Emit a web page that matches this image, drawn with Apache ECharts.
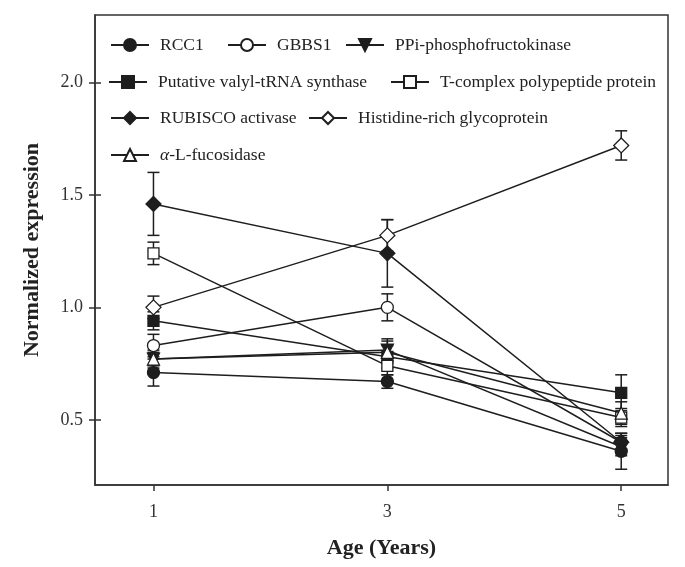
<!DOCTYPE html>
<html>
<head>
<meta charset="utf-8">
<script src="https://cdn.jsdelivr.net/npm/echarts@6/dist/echarts.min.js"></script>
<style>
  html, body { margin: 0; padding: 0; background: #fff; }
  #chart { width: 685px; height: 567px; }
</style>
</head>
<body>
<div id="chart"></div>
<script>
// ages on the x axis
const years = [1, 3, 5]
const xTicks = [1, 3, 5]
const yTicks = [0.5, 1.0, 1.5, 2.0]

// gene names (legend order)
const names = [
  'RCC1', 'GBBS1', 'PPi-phosphofructokinase',
  'Putative valyl-tRNA synthase', 'T-complex polypeptide protein',
  'RUBISCO activase', 'Histidine-rich glycoprotein',
  'α-L-fucosidase'
]

// mean normalized expression at 1, 3, 5 years
const rcc1 = [0.71, 0.67, 0.36]
const gbbs1 = [0.83, 1.0, 0.40]
const ppi = [0.77, 0.81, 0.38]
const valyl = [0.94, 0.78, 0.62]
const tcomplex = [1.24, 0.74, 0.51]
const rubisco = [1.46, 1.24, 0.40]
const histidine = [1.0, 1.32, 1.72]
const fucosidase = [0.77, 0.80, 0.53]

// error bar half-lengths
const rcc1Err = [0.06, 0.03, 0.08]
const gbbs1Err = [0.05, 0.06, 0.04]
const ppiErr = [0.04, 0.05, 0.04]
const valylErr = [0.04, 0.05, 0.08]
const tcomplexErr = [0.05, 0.04, 0.04]
const rubiscoErr = [0.14, 0.15, 0.03]
const histidineErr = [0.05, 0.07, 0.065]
const fucosidaseErr = [0.03, 0.05, 0.05]

const means = [rcc1, gbbs1, ppi, valyl, tcomplex, rubisco, histidine, fucosidase]
const errs = [rcc1Err, gbbs1Err, ppiErr, valylErr, tcomplexErr, rubiscoErr, histidineErr, fucosidaseErr]

// legend slot (left, top) for each gene
const legendLeft = [110, 227, 345, 108, 390, 110, 308, 110]
const legendTop = [36, 36, 36, 73, 73, 109, 109, 146]

// marker look per gene
const markers = [
  { symbol: 'circle', filled: true, size: 12, rotate: 0 },
  { symbol: 'circle', filled: false, size: 12, rotate: 0 },
  { symbol: 'triangle', filled: true, size: 12, rotate: 180 },
  { symbol: 'rect', filled: true, size: 11, rotate: 0 },
  { symbol: 'rect', filled: false, size: 11, rotate: 0 },
  { symbol: 'diamond', filled: true, size: 15, rotate: 0 },
  { symbol: 'diamond', filled: false, size: 15, rotate: 0 },
  { symbol: 'triangle', filled: false, size: 12, rotate: 0 }
]

const INK = '#1e1e1e'
const SERIF = '"Liberation Serif", "DejaVu Serif", serif'

const chart = echarts.init(document.getElementById('chart'))

const errData = []
means.forEach((m, i) => {
  m.forEach((v, j) => {
    errData.push([years[j], v - errs[i][j], v + errs[i][j]])
  })
})

const lineSeries = names.map((name, i) => ({
  name,
  type: 'line',
  data: years.map((x, j) => [x, means[i][j]]),
  symbol: markers[i].symbol,
  symbolSize: markers[i].size,
  symbolRotate: markers[i].rotate,
  showAllSymbol: true,
  z: 3,
  lineStyle: { color: INK, width: 1.5 },
  itemStyle: {
    color: markers[i].filled ? INK : '#fff',
    borderColor: INK,
    borderWidth: 1.3
  },
  emphasis: { disabled: true },
  animation: false
}))

const errorSeries = {
  type: 'custom',
  z: 2,
  animation: false,
  data: errData,
  encode: { x: 0, y: [1, 2] },
  renderItem: (params, api) => {
    const x = api.value(0)
    const lo = api.coord([x, api.value(1)])
    const hi = api.coord([x, api.value(2)])
    const w = 6
    const st = { stroke: INK, lineWidth: 1.5 }
    return {
      type: 'group',
      children: [
        { type: 'line', shape: { x1: lo[0], y1: lo[1], x2: hi[0], y2: hi[1] }, style: st },
        { type: 'line', shape: { x1: lo[0] - w, y1: lo[1], x2: lo[0] + w, y2: lo[1] }, style: st },
        { type: 'line', shape: { x1: hi[0] - w, y1: hi[1], x2: hi[0] + w, y2: hi[1] }, style: st }
      ]
    }
  }
}

const legendText = {
  fontFamily: SERIF,
  fontSize: 17.5,
  color: '#222',
  padding: [0, 0, 0, 6],
  rich: { it: { fontFamily: SERIF, fontSize: 17.5, fontStyle: 'italic', color: '#222' } }
}
// one legend per entry so each sits where the reference puts it
const legends = names.map((n, i) => ({
  left: legendLeft[i],
  top: legendTop[i],
  padding: 0,
  itemWidth: 38,
  itemHeight: 15,
  data: [n],
  textStyle: legendText,
  selectedMode: false,
  formatter: s => s.startsWith('α') ? '{it|α}' + s.slice(1) : s
}))

chart.setOption({
  animation: false,
  grid: {
    left: 95, right: 17, top: 15, bottom: 82,
    show: true, borderColor: '#333', borderWidth: 1.5
  },
  legend: legends,
  xAxis: {
    type: 'value',
    min: 0.5,
    max: 5.4,
    name: 'Age (Years)',
    nameLocation: 'middle',
    nameGap: 52,
    nameTextStyle: { fontFamily: SERIF, fontSize: 22, fontWeight: 'bold', color: '#222' },
    axisLine: { lineStyle: { color: '#333', width: 1.5 } },
    axisTick: { customValues: xTicks, length: 6, lineStyle: { color: '#333', width: 1.5 } },
    axisLabel: { customValues: xTicks, margin: 18, fontFamily: SERIF, fontSize: 18, color: '#333' },
    splitLine: { show: false }
  },
  yAxis: [
    {
      type: 'value',
      min: 0.21,
      max: 2.3,
      name: 'Normalized expression',
      nameLocation: 'middle',
      nameGap: 52,
      nameTextStyle: { fontFamily: SERIF, fontSize: 22, fontWeight: 'bold', color: '#222' },
      axisLine: { show: true, lineStyle: { color: '#333', width: 1.5 } },
      axisTick: { customValues: yTicks, length: 6, lineStyle: { color: '#333', width: 1.5 } },
      axisLabel: {
        customValues: yTicks, margin: 12, fontFamily: SERIF, fontSize: 18, color: '#333',
        formatter: v => v.toFixed(1)
      },
      splitLine: { show: false }
    },
    {
      type: 'value',
      min: 0.21,
      max: 2.3,
      position: 'left',
      offset: 0,
      axisLine: { show: false },
      axisTick: { inside: true, customValues: yTicks, length: 6, lineStyle: { color: '#333', width: 1.5 } },
      axisLabel: { show: false },
      splitLine: { show: false }
    }
  ],
  series: [errorSeries, ...lineSeries]
})
</script>
</body>
</html>
